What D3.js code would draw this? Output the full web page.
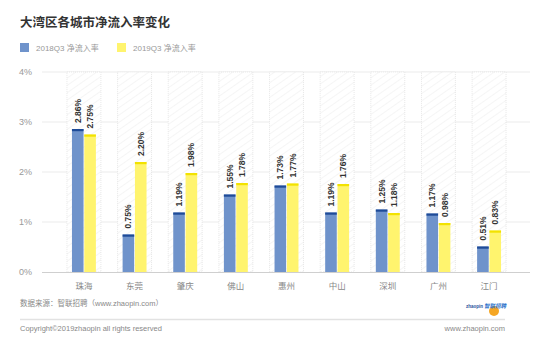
<!DOCTYPE html>
<html>
<head>
<meta charset="utf-8">
<title>大湾区各城市净流入率变化</title>
<script src="https://cdn.jsdelivr.net/npm/d3@7/dist/d3.min.js"></script>
<style>
	body { margin: 0; background: #fff; }
	svg { font-family: "Liberation Sans", "Noto Sans CJK SC", sans-serif; }
</style>
</head>
<body>
<svg id="chart" width="550" height="351"></svg>
<script>
	var cities = ['珠海', '东莞', '肇庆', '佛山', '惠州', '中山', '深圳', '广州', '江门'];
	var rate2018 = [2.86, 0.75, 1.19, 1.55, 1.73, 1.19, 1.25, 1.17, 0.51];
	var rate2019 = [2.75, 2.20, 1.98, 1.78, 1.77, 1.76, 1.18, 0.98, 0.83];
	var seriesNames = ['2018Q3 净流入率', '2019Q3 净流入率'];
	var yTicks = [0, 1, 2, 3, 4];

	var colors = ['#6f93cb', '#fff46e'];
	var caps = ['#1e4b98', '#f2e200'];

	var svg = d3.select('#chart');

	// hatching for the category backgrounds
	var pat = svg.append('defs').append('pattern')
		.attr('id', 'hatch')
		.attr('patternUnits', 'userSpaceOnUse')
		.attr('width', 6)
		.attr('height', 6)
		.attr('patternTransform', 'rotate(-35)');
	pat.append('rect')
		.attr('width', 6).attr('height', 6)
		.attr('fill', '#fff');
	pat.append('line')
		.attr('x1', 0).attr('y1', 0.5).attr('x2', 6).attr('y2', 0.5)
		.attr('stroke', '#f5f5f5')
		.attr('stroke-width', 1);

	var y = d3.scaleLinear().domain([0, 4]).range([272, 72]);
	var x = d3.scaleBand()
		.domain(cities)
		.range([58.6, 514.4])
		.paddingInner(0.33)
		.paddingOuter(0.165);
	var xs = d3.scaleBand()
		.domain([0, 1])
		.range([5, x.bandwidth() - 5])
		.paddingInner(0.06);

	// title + legend
	svg.append('text')
		.attr('x', 20).attr('y', 27)
		.attr('font-size', 12.5)
		.attr('font-weight', 'bold')
		.attr('fill', '#333')
		.text('大湾区各城市净流入率变化');

	var legend = svg.selectAll('.legend')
		.data(seriesNames)
		.enter()
		.append('g')
		.attr('transform', (d, i) => 'translate(' + (20 + i * 97) + ',43)');
	legend.append('rect')
		.attr('width', 9).attr('height', 9)
		.attr('fill', (d, i) => colors[i]);
	legend.append('text')
		.attr('x', 16).attr('y', 8)
		.attr('font-size', 8)
		.attr('fill', '#999')
		.text(d => d);

	// gridlines and y labels
	svg.selectAll('.grid')
		.data(yTicks.filter(d => d > 0))
		.enter()
		.append('line')
		.attr('x1', 42).attr('x2', 530)
		.attr('y1', d => y(d)).attr('y2', d => y(d))
		.attr('stroke', '#e6e6e6')
		.attr('stroke-width', 0.8);

	svg.selectAll('.ylab')
		.data(yTicks)
		.enter()
		.append('text')
		.attr('x', 32)
		.attr('y', d => y(d) + 3)
		.attr('text-anchor', 'end')
		.attr('font-size', 9)
		.attr('fill', '#999')
		.text(d => d + '%');

	// category backgrounds
	svg.selectAll('.bg')
		.data(cities)
		.enter()
		.append('rect')
		.attr('x', d => x(d))
		.attr('y', y(4))
		.attr('width', x.bandwidth())
		.attr('height', y(0) - y(4))
		.attr('fill', 'url(#hatch)')
		.attr('stroke', '#dcdcdc')
		.attr('stroke-width', 0.7)
		.attr('stroke-dasharray', '1,1');

	// bars
	var series = [rate2018, rate2019];
	series.forEach((vals, s) => {
		var g = svg.append('g');
		g.selectAll('rect.bar')
			.data(vals)
			.enter()
			.append('rect')
			.attr('x', (d, i) => x(cities[i]) + xs(s))
			.attr('y', d => y(d))
			.attr('width', xs.bandwidth())
			.attr('height', d => y(0) - y(d))
			.attr('fill', colors[s]);
		g.selectAll('rect.cap')
			.data(vals)
			.enter()
			.append('rect')
			.attr('x', (d, i) => x(cities[i]) + xs(s))
			.attr('y', d => y(d))
			.attr('width', xs.bandwidth())
			.attr('height', 2.2)
			.attr('fill', caps[s]);
		g.selectAll('text')
			.data(vals)
			.enter()
			.append('text')
			.attr('transform', (d, i) => 'translate(' + (x(cities[i]) + xs(s) + xs.bandwidth() / 2 + 3) + ',' + (y(d) - 6) + ') rotate(-90)')
			.attr('font-size', 8.5)
			.attr('font-weight', 'bold')
			.attr('fill', '#333')
			.text(d => d.toFixed(2) + '%');
	});

	// baseline
	svg.append('line')
		.attr('x1', 42).attr('x2', 530)
		.attr('y1', y(0) + 0.5).attr('y2', y(0) + 0.5)
		.attr('stroke', '#cfcfcf')
		.attr('stroke-width', 1);

	// category labels
	svg.selectAll('.xlab')
		.data(cities)
		.enter()
		.append('text')
		.attr('x', d => x(d) + x.bandwidth() / 2)
		.attr('y', 289)
		.attr('text-anchor', 'middle')
		.attr('font-size', 8.5)
		.attr('fill', '#888')
		.text(d => d);

	// footer
	svg.append('text')
		.attr('x', 20).attr('y', 306)
		.attr('font-size', 7.5)
		.attr('fill', '#888')
		.text('数据来源：智联招聘（www.zhaopin.com）');
	svg.append('line')
		.attr('x1', 20).attr('x2', 505)
		.attr('y1', 319.5).attr('y2', 319.5)
		.attr('stroke', '#e2e2e2')
		.attr('stroke-width', 1.5);
	svg.append('text')
		.attr('x', 20).attr('y', 331)
		.attr('font-size', 7.5)
		.attr('fill', '#888')
		.text('Copyright©2019zhaopin all rights reserved');
	svg.append('text')
		.attr('x', 505).attr('y', 331)
		.attr('text-anchor', 'end')
		.attr('font-size', 7.5)
		.attr('fill', '#888')
		.text('www.zhaopin.com');

	// logo
	var logo = svg.append('g');
	logo.append('circle')
		.attr('cx', 494).attr('cy', 311).attr('r', 5)
		.attr('fill', '#f5a623');
	logo.append('text')
		.attr('x', 483).attr('y', 308)
		.attr('text-anchor', 'end')
		.attr('font-size', 4.5)
		.attr('font-weight', 'bold')
		.attr('fill', '#1d4f9c')
		.text('zhaopin');
	logo.append('text')
		.attr('x', 506).attr('y', 308)
		.attr('text-anchor', 'end')
		.attr('font-size', 5.5)
		.attr('font-weight', 'bold')
		.attr('font-style', 'italic')
		.attr('fill', '#2a6fc9')
		.text('智联招聘');
</script>
</body>
</html>
